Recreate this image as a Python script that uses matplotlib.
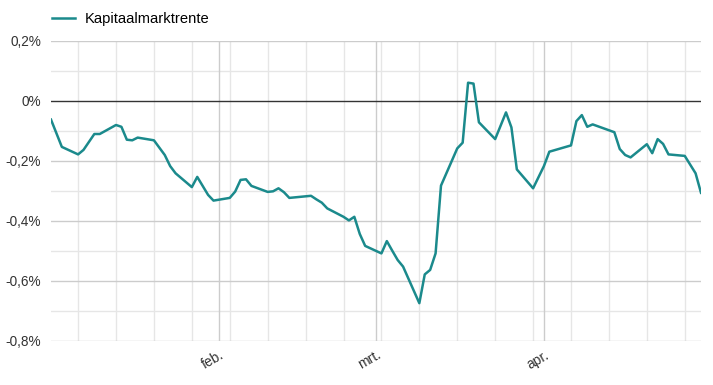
import matplotlib
matplotlib.use("Agg")
import matplotlib.pyplot as plt
import numpy as np
import pandas as pd

plt.rcParams['font.family'] = ['Liberation Sans', 'DejaVu Sans']

dates = ["2020-01-01", "2020-01-03", "2020-01-06", "2020-01-07", "2020-01-09", "2020-01-10",
         "2020-01-13", "2020-01-14", "2020-01-15", "2020-01-16", "2020-01-17", "2020-01-20",
         "2020-01-22", "2020-01-23", "2020-01-24", "2020-01-27", "2020-01-28", "2020-01-30",
         "2020-01-31", "2020-02-03", "2020-02-04", "2020-02-05", "2020-02-06", "2020-02-07",
         "2020-02-10", "2020-02-11", "2020-02-12", "2020-02-13", "2020-02-14", "2020-02-18",
         "2020-02-19", "2020-02-20", "2020-02-21", "2020-02-24", "2020-02-25", "2020-02-26",
         "2020-02-27", "2020-02-28", "2020-03-02", "2020-03-03", "2020-03-04", "2020-03-05",
         "2020-03-06", "2020-03-09", "2020-03-10", "2020-03-11", "2020-03-12", "2020-03-13",
         "2020-03-16", "2020-03-17", "2020-03-18", "2020-03-19", "2020-03-20", "2020-03-23",
         "2020-03-25", "2020-03-26", "2020-03-27", "2020-03-30", "2020-04-01", "2020-04-02",
         "2020-04-06", "2020-04-07", "2020-04-08", "2020-04-09", "2020-04-10", "2020-04-14",
         "2020-04-15", "2020-04-16", "2020-04-17", "2020-04-20", "2020-04-21", "2020-04-22",
         "2020-04-23", "2020-04-24", "2020-04-27", "2020-04-29", "2020-04-30"]
rente = [-0.062, -0.153, -0.178, -0.163, -0.110, -0.110,
         -0.080, -0.086, -0.129, -0.131, -0.122, -0.131,
         -0.180, -0.217, -0.241, -0.287, -0.253, -0.313,
         -0.332, -0.323, -0.302, -0.263, -0.261, -0.283,
         -0.303, -0.301, -0.291, -0.304, -0.323, -0.316,
         -0.328, -0.339, -0.358, -0.386, -0.398, -0.386,
         -0.443, -0.483, -0.508, -0.467, -0.499, -0.530,
         -0.552, -0.674, -0.578, -0.563, -0.508, -0.282,
         -0.158, -0.139, 0.061, 0.058, -0.071, -0.127,
         -0.038, -0.088, -0.228, -0.291, -0.217, -0.169,
         -0.148, -0.067, -0.047, -0.086, -0.078, -0.104,
         -0.160, -0.180, -0.188, -0.144, -0.174, -0.127,
         -0.143, -0.178, -0.183, -0.241, -0.306]
y_ticks = [0.2, 0.0, -0.2, -0.4, -0.6, -0.8]
y_labels = ["0,2%", "0%", "-0,2%", "-0,4%", "-0,6%", "-0,8%"]
month_ticks = ["2020-02-01", "2020-03-01", "2020-04-01"]
month_labels = ["feb.", "mrt.", "apr."]

x = pd.to_datetime(dates)
W, H = 713, 385
fig = plt.figure(figsize=(W / 100, H / 100), dpi=100)
ax = fig.add_axes([51 / W, 1 - 341 / H, 650 / W, 300 / H])

ax.set_xlim(pd.Timestamp("2020-01-01"), pd.Timestamp("2020-04-30"))
ax.set_ylim(-0.8, 0.2)

# minor grid
mondays = pd.date_range("2020-01-06", "2020-04-30", freq="7D")
for m in mondays:
    ax.axvline(m, color="#e6e6e6", lw=1, zorder=0)
for v in np.arange(-0.7, 0.2, 0.2):
    ax.axhline(v, color="#e6e6e6", lw=1, zorder=0)
for v in y_ticks:
    if v != 0:
        ax.axhline(v, color="#cccccc", lw=1, zorder=1)
for m in month_ticks:
    ax.axvline(pd.Timestamp(m), color="#cccccc", lw=1, zorder=1)
ax.axhline(0, color="#333333", lw=1, zorder=2)

line, = ax.plot(x, rente, color="#1b8a8c", lw=1.8, zorder=3, label="Kapitaalmarktrente")

for s in ax.spines.values():
    s.set_visible(False)

ax.set_yticks(y_ticks)
ax.set_yticklabels(y_labels, fontsize=9.8, color="#333333")
ax.set_xticks(pd.to_datetime(month_ticks))
ax.set_xticklabels(month_labels, fontsize=10, color="#333333", rotation=30, ha="right", rotation_mode="anchor")
for lbl in ax.get_xticklabels():
    lbl.set_x(lbl.get_position()[0])
ax.tick_params(axis="both", length=0)
ax.tick_params(axis="x", pad=5)
ax.tick_params(axis="y", pad=7)

fig.legend(handles=[line], loc="upper left", bbox_to_anchor=(46 / W, 1 - 6 / H), frameon=False,
           fontsize=10.6, handlelength=1.6, handletextpad=0.6, borderaxespad=0)

fig.savefig("out.png", dpi=100, facecolor="white")
